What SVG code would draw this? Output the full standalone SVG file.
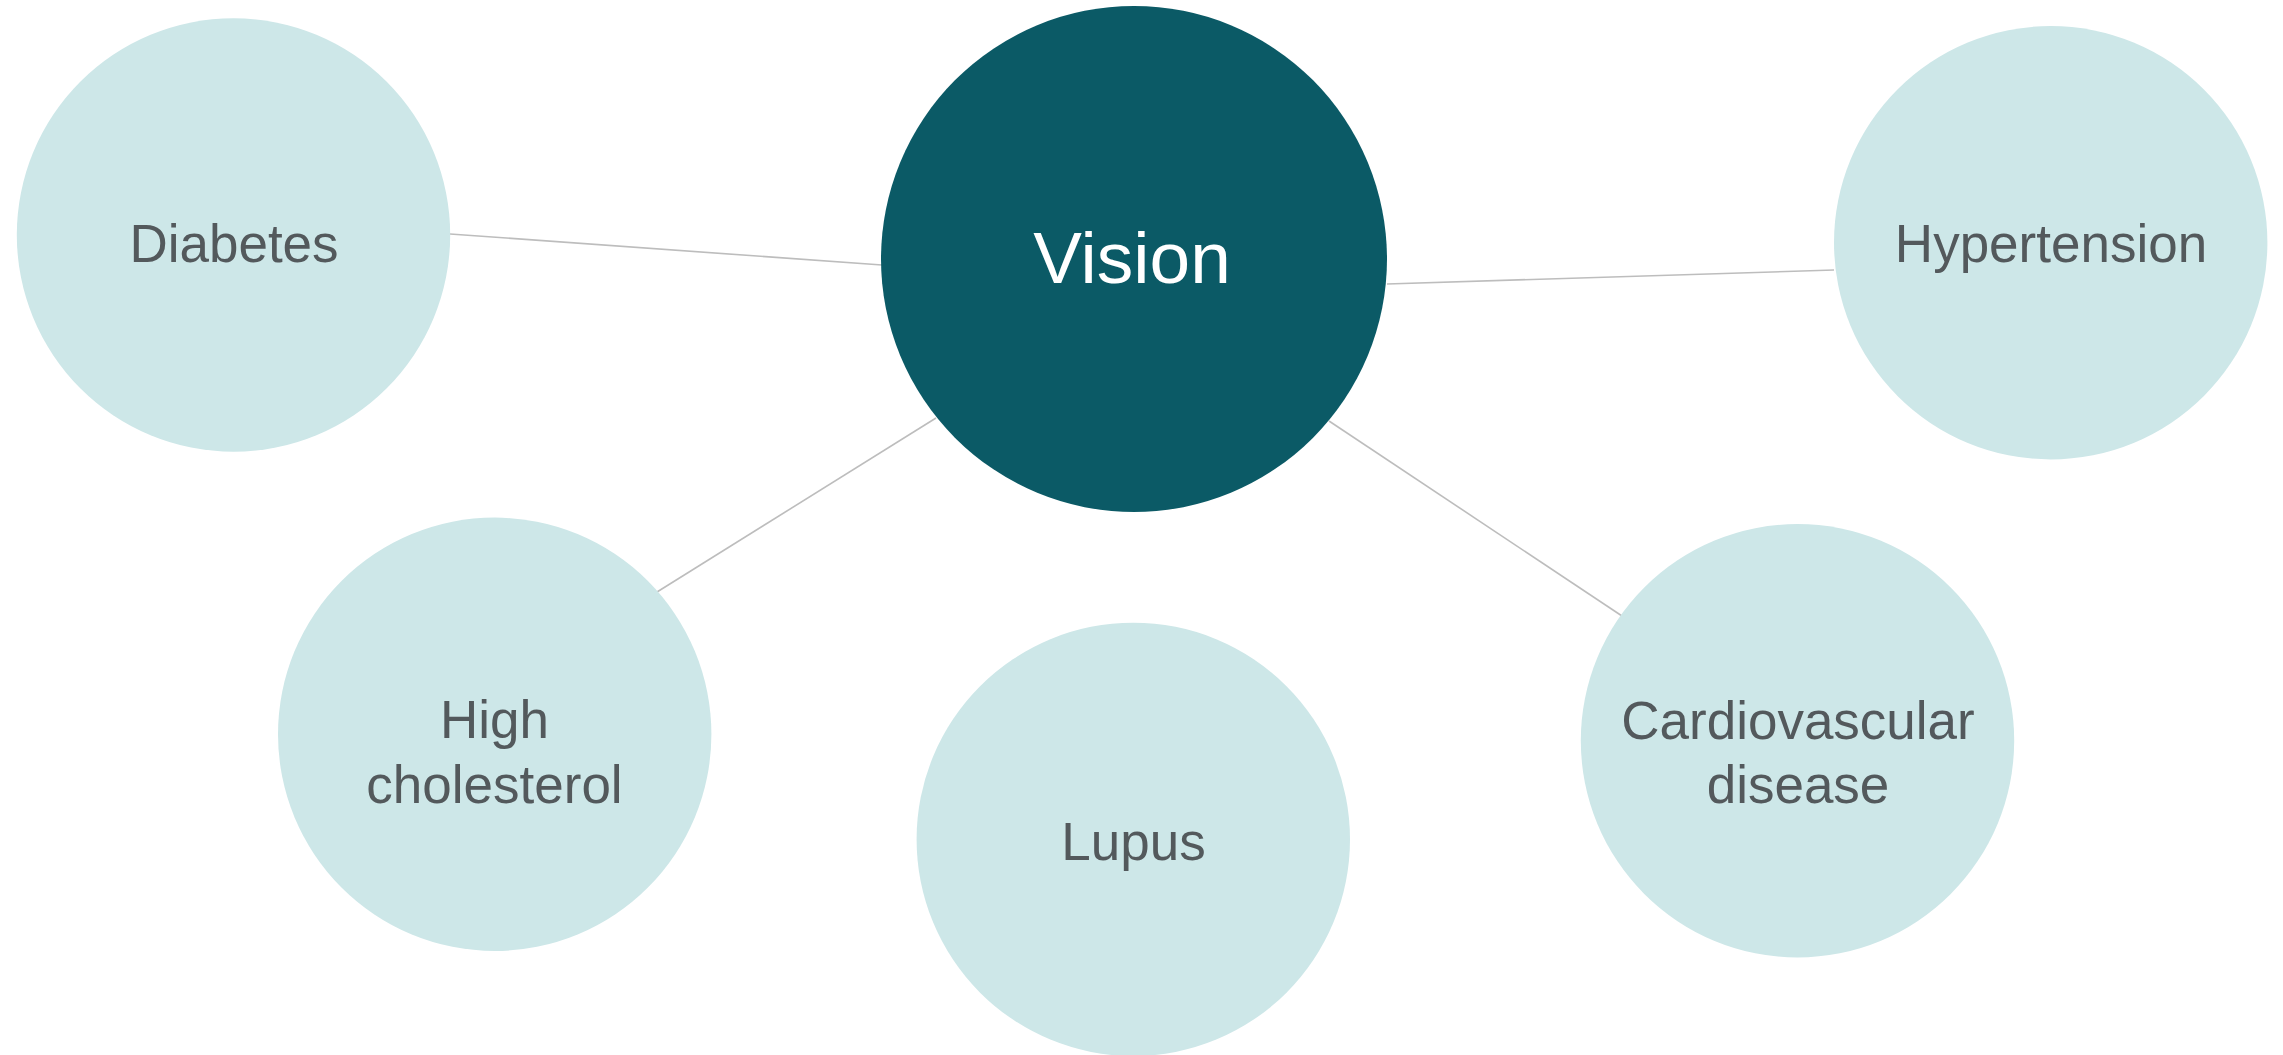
<svg xmlns="http://www.w3.org/2000/svg" width="2283" height="1055" viewBox="0 0 2283 1055">
<style>
.bg{fill:#ffffff}
.conn line{stroke:#BDBDBD;stroke-width:1.6;fill:none}
.leaf{fill:#CDE7E8}
.hub{fill:#0B5A66}
.lt{font-family:"Liberation Sans",Arial,sans-serif;font-size:53px;fill:#53595C;text-anchor:middle}
.ht{font-family:"Liberation Sans",Arial,sans-serif;font-size:73px;fill:#ffffff;text-anchor:middle}
</style>
<rect class="bg" x="0" y="0" width="2283" height="1055"/>
<g id="connectors" class="conn">
<line x1="450" y1="234" x2="882" y2="265"/>
<line x1="1387" y1="284" x2="1834" y2="270"/>
<line x1="936" y1="418" x2="657" y2="592"/>
<line x1="1329" y1="421" x2="1622" y2="616"/>
</g>
<g id="node-vision">
<circle class="hub" cx="1134" cy="259" r="253"/>
<text class="ht" x="1132" y="283">Vision</text>
</g>
<g id="node-diabetes">
<circle class="leaf" cx="233.5" cy="235" r="216.7"/>
<text class="lt" x="234" y="262">Diabetes</text>
</g>
<g id="node-hypertension">
<circle class="leaf" cx="2050.7" cy="242.7" r="216.7"/>
<text class="lt" x="2051" y="262">Hypertension</text>
</g>
<g id="node-high-cholesterol">
<circle class="leaf" cx="494.7" cy="734.3" r="216.7"/>
<text class="lt" x="494.5" y="738.3">High</text>
<text class="lt" x="494.5" y="802.7">cholesterol</text>
</g>
<g id="node-lupus">
<circle class="leaf" cx="1133.3" cy="839.4" r="216.7"/>
<text class="lt" x="1133.5" y="860">Lupus</text>
</g>
<g id="node-cardiovascular">
<circle class="leaf" cx="1797.5" cy="740.7" r="216.7"/>
<text class="lt" x="1798" y="739.3">Cardiovascular</text>
<text class="lt" x="1798" y="803.3">disease</text>
</g>
</svg>
